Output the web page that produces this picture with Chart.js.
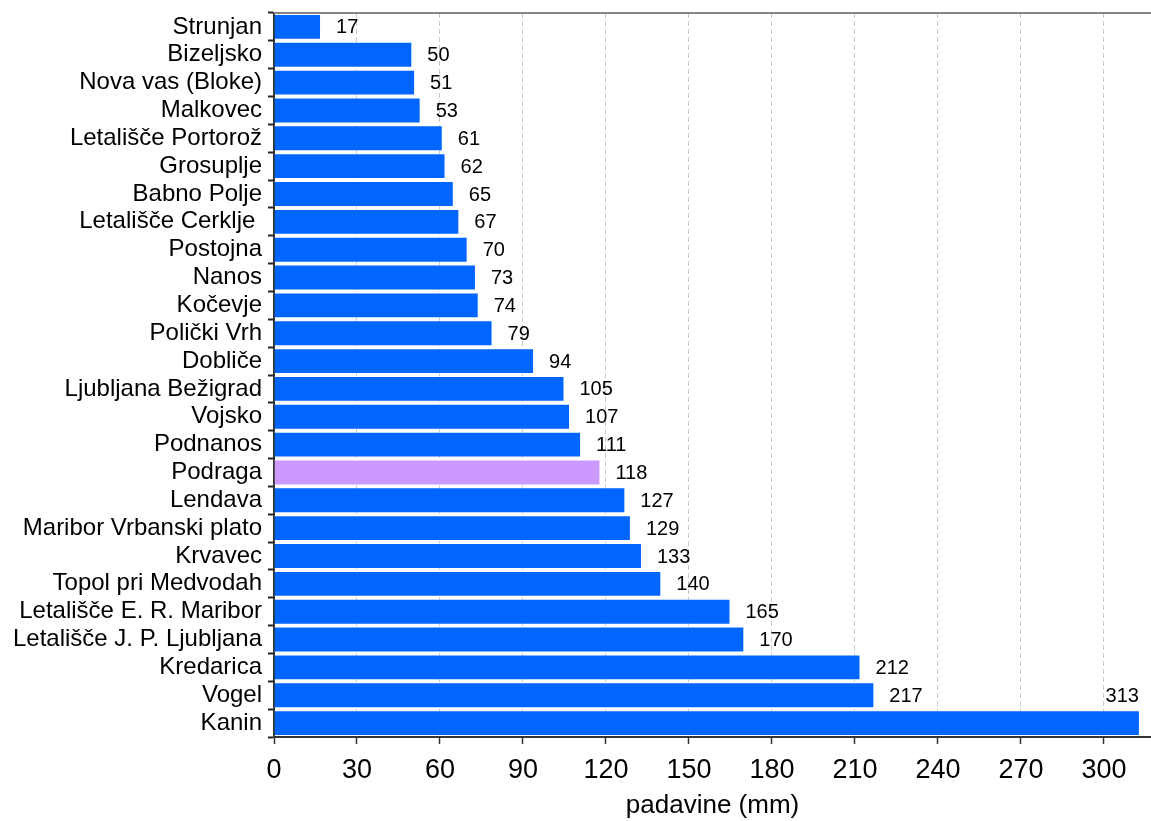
<!DOCTYPE html>
<html>
<head>
<meta charset="utf-8">
<script src="https://cdn.jsdelivr.net/npm/chart.js@4.4.0/dist/chart.umd.min.js"></script>
<style>
  html, body { margin: 0; padding: 0; background: #fff; }
  #wrap { width: 1151px; height: 821px; }
</style>
</head>
<body>
<div id="wrap"><canvas id="chart" width="1151" height="821"></canvas></div>
<script>
// stations and rainfall (mm)
const stations = [
  'Strunjan', 'Bizeljsko', 'Nova vas (Bloke)', 'Malkovec', 'Letališče Portorož',
  'Grosuplje', 'Babno Polje', 'Letališče Cerklje ', 'Postojna', 'Nanos',
  'Kočevje', 'Polički Vrh', 'Dobliče', 'Ljubljana Bežigrad', 'Vojsko',
  'Podnanos', 'Podraga', 'Lendava', 'Maribor Vrbanski plato', 'Krvavec',
  'Topol pri Medvodah', 'Letališče E. R. Maribor', 'Letališče J. P. Ljubljana',
  'Kredarica', 'Vogel', 'Kanin'
];
const rainValues = [17, 50, 51, 53, 61, 62, 65, 67, 70, 73, 74, 79, 94, 105, 107,
  111, 118, 127, 129, 133, 140, 165, 170, 212, 217, 313];
const highlighted = 'Podraga';
const axisMax = 317;
const axisStep = 30;

const FONT = '"Liberation Sans", Arial, sans-serif';

// value labels next to bar ends; if it doesn't fit, put it above the bar end
const valueLabels = {
  id: 'valueLabels',
  afterDatasetsDraw(chart) {
    const ctx = chart.ctx;
    const area = chart.chartArea;
    const bars = chart.getDatasetMeta(0).data;
    const rowH = bars.length > 1 ? bars[1].y - bars[0].y : 28;
    ctx.save();
    ctx.font = '20px ' + FONT;
    ctx.fillStyle = '#000';
    ctx.textBaseline = 'middle';
    bars.forEach((bar, i) => {
      const txt = String(rainValues[i]);
      const w = ctx.measureText(txt).width;
      let x = bar.x + 15;
      let y = bar.y + 1;
      ctx.textAlign = 'left';
      if (x + w > area.right - 2) {
        ctx.textAlign = 'right';
        x = bar.x - 1;
        y = bar.y - rowH + 1;
      }
      ctx.fillText(txt, x, y);
    });
    ctx.restore();
  },
  afterDraw(chart) {
    // gray frame line along the top
    const ctx = chart.ctx;
    const area = chart.chartArea;
    ctx.save();
    ctx.strokeStyle = '#858585';
    ctx.lineWidth = 2;
    ctx.beginPath();
    ctx.moveTo(area.left, area.top);
    ctx.lineTo(chart.width, area.top);
    ctx.stroke();
    ctx.restore();
  }
};

const ctx = document.getElementById('chart').getContext('2d');
new Chart(ctx, {
  type: 'bar',
  data: {
    labels: stations,
    datasets: [{
      data: rainValues,
      backgroundColor: stations.map(s => s === highlighted ? '#CC99FF' : '#0066FF'),
      borderColor: 'rgba(255,255,255,0.45)',
      borderWidth: 1,
      barPercentage: 0.93,
      categoryPercentage: 1.0
    }]
  },
  options: {
    indexAxis: 'y',
    responsive: false,
    devicePixelRatio: 1,
    animation: false,
    layout: { padding: { top: 13, right: 0, left: 0, bottom: 0 } },
    plugins: {
      legend: { display: false },
      tooltip: { enabled: false }
    },
    scales: {
      x: {
        min: 0,
        max: axisMax,
        ticks: {
          stepSize: axisStep,
          includeBounds: false,
          color: '#000',
          font: { family: FONT, size: 27 },
          padding: 10
        },
        grid: {
          color: '#c8c8c8',
          lineWidth: 1,
          tickColor: '#333',
          tickLength: 7,
          tickWidth: 1.5
        },
        border: { color: '#333', width: 2, dash: [5, 3] },
        title: {
          display: true,
          text: 'padavine (mm)',
          color: '#000',
          font: { family: FONT, size: 26 },
          padding: { top: 0, bottom: 0 }
        },
        afterFit(scale) { scale.height = 84; scale.paddingLeft = 0; scale.paddingRight = 0; }
      },
      y: {
        ticks: {
          color: '#000',
          font: { family: FONT, size: 24 },
          padding: 6,
          autoSkip: false
        },
        grid: {
          offset: true,
          drawOnChartArea: false,
          tickColor: '#222',
          tickLength: 6,
          tickWidth: 2
        },
        border: { color: '#333', width: 2 },
        afterFit(scale) { scale.width = 274; scale.paddingTop = 0; scale.paddingBottom = 0; }
      }
    }
  },
  plugins: [valueLabels]
});
</script>
</body>
</html>
